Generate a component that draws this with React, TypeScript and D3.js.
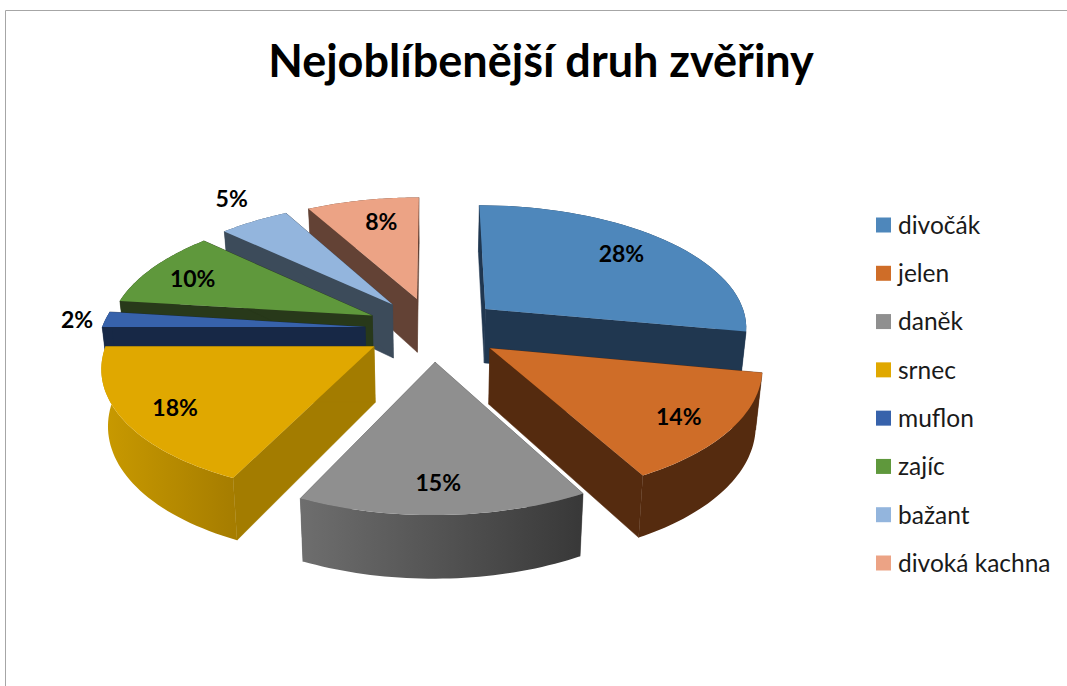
import React from "react";
import * as d3 from "d3";

const categories = ["divočák", "jelen", "daněk", "srnec", "muflon", "zajíc", "bažant", "divoká kachna"];
const shares = [28, 14, 15, 18, 2, 10, 5, 8];
const topColors = ["#4e87bb", "#cf6d28", "#8f8f8f", "#e0a800", "#3762ab", "#5f983c", "#93b5dd", "#eca385"];
const cutColors = ["#203750", "#552b0f", "#555555", "#a37c00", "#172846", "#28391a", "#3c4b5a", "#634235"];
const wallLeft = ["#203750", "#552b0f", "#6e6e6e", "#c99a00", "#172846", "#28391a", "#3c4b5a", "#634235"];
const wallRight = ["#203750", "#552b0f", "#383838", "#a67d00", "#172846", "#28391a", "#3c4b5a", "#634235"];
const drawOrder = [7, 6, 5, 4, 3, 0, 1, 2];
const labelRadius = [0.73, 0.77, 0.77, 0.75, 1.03, 0.75, 1.25, 0.73];
const labelShift = [[-3, -2], [-1, 4], [-3, 1], [-6, 5], [-9, 1], [-6, 1], [15, 0], [7, 0]];

const W = 1067, H = 686;
const CX = 433.5, CY = 329, RX = 275, RY = 128, PERSP = 0.14, EXPLODE = 0.25, RIM = 0.958, DEPTH = 55, SHEAR = 2.5;

type P = [number, number];
const plate = (mid: number, a: number, r: number): P => [
  EXPLODE * Math.sin(mid) + r * Math.sin(a),
  -EXPLODE * Math.cos(mid) - r * Math.cos(a),
];
const top = ([u, v]: P): P => {
  const f = 1 / (1 - PERSP * v);
  return [CX + RX * u * f - SHEAR * Math.max(v, 0), CY + RY * v * f];
};
const bottom = ([u, v]: P): P => {
  const [x, y] = top([u, v]);
  return [CX + (x - CX) * 0.98, y + DEPTH * (1 + 0.13 * v)];
};
const pathOf = d3.line<P>().x((d) => d[0]).y((d) => d[1]);
const closed = (pts: P[]) => pathOf(pts) + "Z";

const arcs = d3.pie<number>().sort(null).value((d) => d)(shares);

function Slice({ i }: { i: number }) {
  const a = arcs[i];
  const mid = (a.startAngle + a.endAngle) / 2;
  const rim: P[] = d3
    .range(41)
    .map((k) => plate(mid, a.startAngle + ((a.endAngle - a.startAngle) * k) / 40, RIM));
  const apex = plate(mid, mid, 0);
  const s = rim[0];
  const e = rim[rim.length - 1];
  const face = (p: P, q: P) => closed([top(p), top(q), bottom(q), bottom(p)]);
  const rimTop = rim.map(top);
  const rimBottom = rim.map(bottom);
  const xs = rimTop.map((d) => d[0]);
  return (
    <g>
      <linearGradient
        id={`wall${i}`}
        gradientUnits="userSpaceOnUse"
        x1={d3.min(xs)}
        x2={d3.max(xs)}
        y1={0}
        y2={0}
      >
        <stop offset="0" stopColor={wallLeft[i]} />
        <stop offset="1" stopColor={wallRight[i]} />
      </linearGradient>
      <path d={face(apex, s)} fill={cutColors[i]} stroke={cutColors[i]} strokeWidth={0.5} />
      <path d={face(apex, e)} fill={cutColors[i]} stroke={cutColors[i]} strokeWidth={0.5} />
      <path d={closed([...rimTop, ...rimBottom.slice().reverse()])} fill={`url(#wall${i})`} />
      <path d={closed([top(apex), ...rimTop])} fill={topColors[i]} />
    </g>
  );
}

const font = "Lato, Carlito, sans-serif";

export default function App() {
  return (
    <svg
      width={W}
      height={H}
      viewBox={`0 0 ${W} ${H}`}
      style={{ position: "fixed", left: 0, top: 0, display: "block", background: "#fff" }}
    >
      <path d={`M5.5 ${H}V10.5H${W}`} fill="none" stroke="#a6a6a6" strokeWidth={1} />
      <text x={541} y={77} textAnchor="middle" fontFamily={font} fontWeight={700} fontSize={45} fill="#000">
        Nejoblíbenější druh zvěřiny
      </text>
      {drawOrder.map((i) => (
        <Slice key={i} i={i} />
      ))}
      {arcs.map((a, i) => {
        const mid = (a.startAngle + a.endAngle) / 2;
        const [x, y] = top(plate(mid, mid, labelRadius[i]));
        return (
          <text
            key={i}
            x={x + labelShift[i][0]}
            y={y + labelShift[i][1]}
            dy="0.36em"
            textAnchor="middle"
            fontFamily={font}
            fontWeight={700}
            fontSize={23}
            fill="#000"
          >
            {shares[i]}%
          </text>
        );
      })}
      {categories.map((c, i) => {
        const y = d3.scaleLinear().domain([0, 7]).range([225, 563])(i);
        return (
          <g key={c}>
            <rect x={876} y={y - 7.5} width={15} height={15} fill={topColors[i]} />
            <text x={898} y={y} dy="0.36em" fontFamily={font} fontSize={24.5} fill="#1a1a1a">
              {c}
            </text>
          </g>
        );
      })}
    </svg>
  );
}
